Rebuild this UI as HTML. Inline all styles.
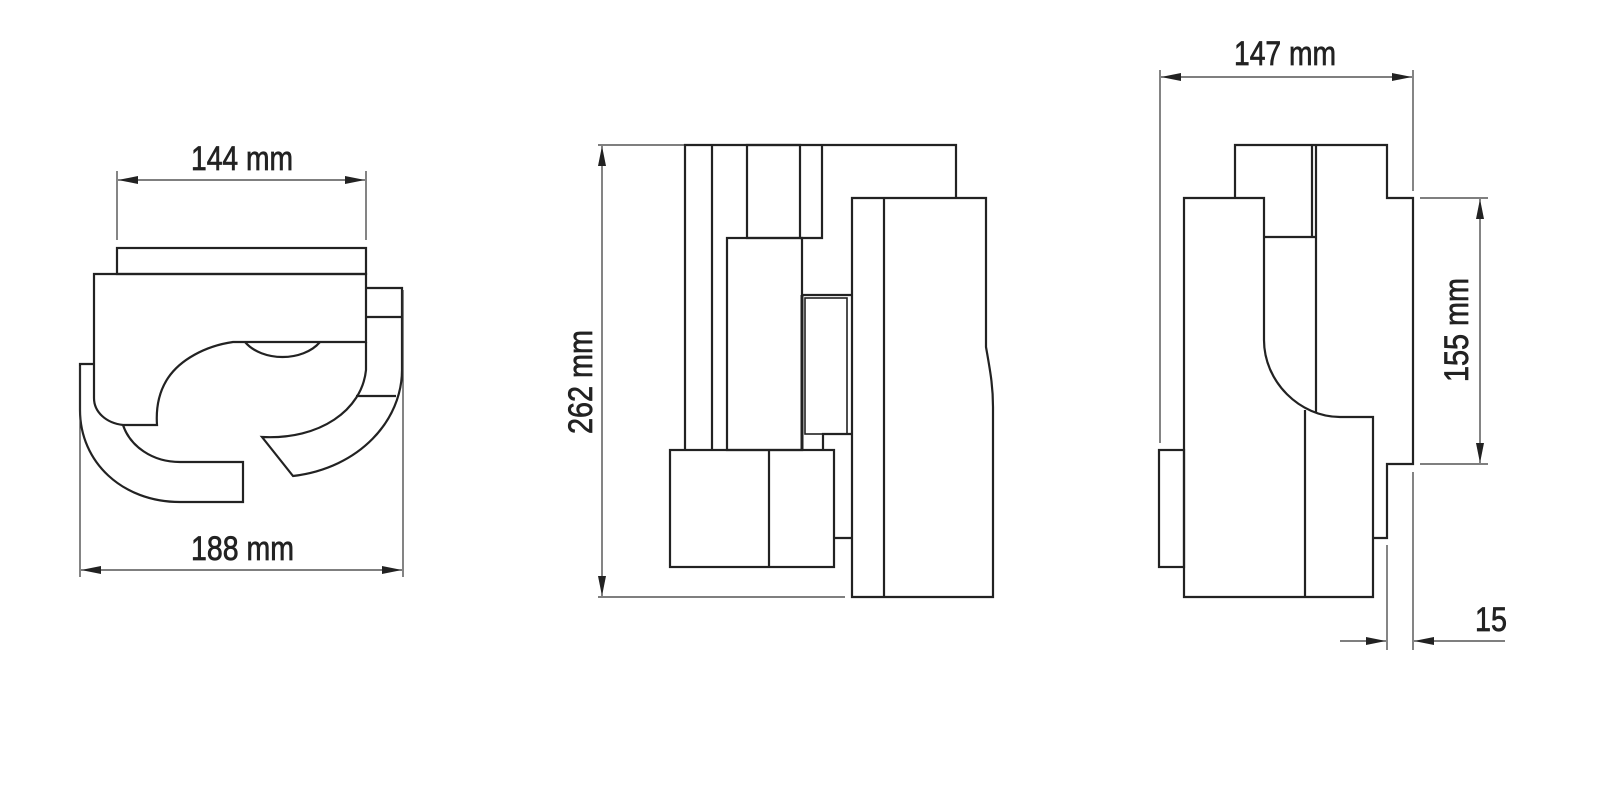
<!DOCTYPE html>
<html><head><meta charset="utf-8"><style>html,body{margin:0;padding:0;background:#fff}svg{display:block}</style></head>
<body>
<svg width="1600" height="790" viewBox="0 0 1600 790" xmlns="http://www.w3.org/2000/svg">
<defs>
<marker id="a" viewBox="0 0 20 8" refX="20" refY="4" markerWidth="20" markerHeight="8" markerUnits="userSpaceOnUse" orient="auto-start-reverse"><path d="M0,0 L20,4 L0,8 Z" fill="#222"/></marker>
</defs>
<g fill="none" stroke="#222" stroke-width="2.2" stroke-linejoin="miter">
<rect x="117" y="248" width="249" height="26"/>
<path d="M94,274 H366 V342 H233 C205,346 180,360 168,378 C158,393 156,410 157,425 H123 C106,423 94,412 94,398 Z"/>
<path d="M245,342 C262,362 303,362 320,342"/>
<path d="M366,342 V370 C362,410 320,440 262,437 L293,476 C360,468 402,420 402,370 V288 H366"/>
<line x1="366" y1="317" x2="402" y2="317"/>
<line x1="356" y1="396" x2="396" y2="396"/>
<path d="M94,364 H80 V410 C80,462 122,502 180,502 H243 V462 H180 C152,462 130,446 123,425"/>
<path d="M685,450 V145 H956 V198"/>
<line x1="712" y1="145" x2="712" y2="450"/>
<rect x="747" y="145" width="53" height="93"/>
<path d="M822,145 V238 H800"/>
<rect x="727" y="238" width="75" height="212"/>
<path d="M802,295 H852"/>
<rect x="805" y="298" width="42" height="136" stroke-width="1.6"/>
<line x1="802" y1="295" x2="802" y2="450" stroke-width="3"/>
<path d="M852,434 H823 V450"/>
<rect x="670" y="450" width="164" height="117"/>
<line x1="769" y1="450" x2="769" y2="567"/>
<line x1="834" y1="538" x2="852" y2="538"/>
<path d="M852,198 H986 V347 C990,370 993,385 993,407 V597 H852 Z"/>
<line x1="884" y1="198" x2="884" y2="597"/>
<path d="M1235,198 V145 H1387 V198 H1413 V464 H1387 V538 H1373"/>
<path d="M1184,198 H1264 V340 C1264,382 1300,417 1340,417 H1373 V597 H1184 Z"/>
<line x1="1312" y1="145" x2="1312" y2="237"/>
<line x1="1316" y1="145" x2="1316" y2="412"/>
<line x1="1264" y1="237" x2="1316" y2="237"/>
<line x1="1305" y1="410" x2="1305" y2="597"/>
<rect x="1159" y="450" width="25" height="117"/>
</g>
<g fill="none" stroke="#333" stroke-width="1.2">
<line x1="117" y1="171" x2="117" y2="240"/><line x1="366" y1="171" x2="366" y2="240"/>
<line x1="118" y1="180" x2="365" y2="180" marker-start="url(#a)" marker-end="url(#a)"/>
<line x1="80" y1="366" x2="80" y2="577"/><line x1="403" y1="290" x2="403" y2="577"/>
<line x1="81" y1="570" x2="402" y2="570" marker-start="url(#a)" marker-end="url(#a)"/>
<line x1="598" y1="145" x2="684" y2="145"/><line x1="598" y1="597" x2="845" y2="597"/>
<line x1="602" y1="146" x2="602" y2="596" marker-start="url(#a)" marker-end="url(#a)"/>
<line x1="1160" y1="70" x2="1160" y2="443"/><line x1="1413" y1="70" x2="1413" y2="191"/>
<line x1="1161" y1="77" x2="1412" y2="77" marker-start="url(#a)" marker-end="url(#a)"/>
<line x1="1420" y1="198" x2="1488" y2="198"/><line x1="1420" y1="464" x2="1488" y2="464"/>
<line x1="1480" y1="199" x2="1480" y2="463" marker-start="url(#a)" marker-end="url(#a)"/>
<line x1="1387" y1="545" x2="1387" y2="650"/><line x1="1413" y1="472" x2="1413" y2="650"/>
<line x1="1340" y1="641" x2="1386" y2="641" marker-end="url(#a)"/>
<line x1="1505" y1="641" x2="1414" y2="641" marker-end="url(#a)"/>
</g>
<g font-family="'Liberation Sans Narrow','Liberation Sans',sans-serif" font-size="34" fill="#222" stroke="#222" stroke-width="0.7">
<text x="191" y="170" textLength="102" lengthAdjust="spacingAndGlyphs">144 mm</text>
<text x="191" y="560" textLength="103" lengthAdjust="spacingAndGlyphs">188 mm</text>
<text x="1234" y="65" textLength="102" lengthAdjust="spacingAndGlyphs">147 mm</text>
<text transform="translate(592,434) rotate(-90)" textLength="104" lengthAdjust="spacingAndGlyphs">262 mm</text>
<text transform="translate(1468,382) rotate(-90)" textLength="104" lengthAdjust="spacingAndGlyphs">155 mm</text>
<text x="1475" y="631" textLength="32" lengthAdjust="spacingAndGlyphs">15</text>
</g>
</svg>
</body></html>
